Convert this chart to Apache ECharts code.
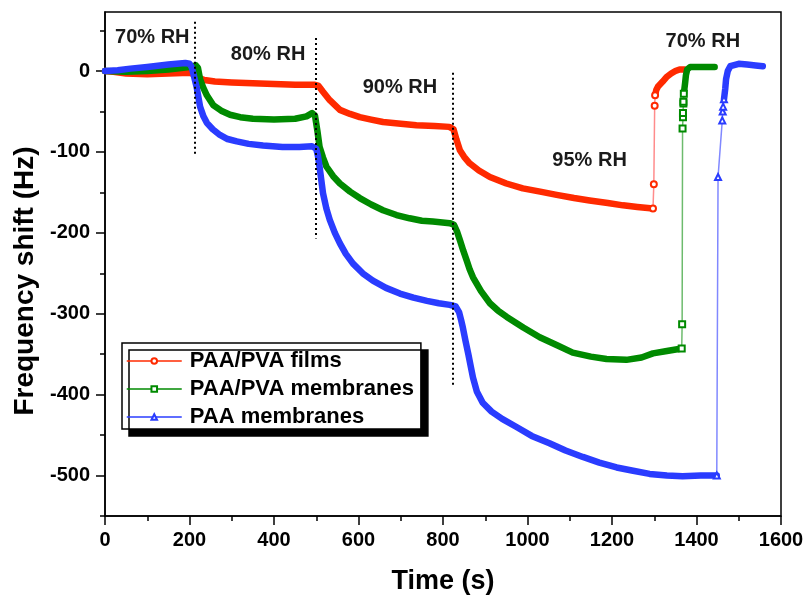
<!DOCTYPE html>
<html>
<head>
<meta charset="utf-8">
<script src="https://cdn.jsdelivr.net/npm/echarts@6/dist/echarts.min.js"></script>
<style>
  html, body { margin: 0; padding: 0; background: #fff; }
  #chart { width: 809px; height: 596px; }
</style>
</head>
<body>
<div id="chart"></div>
<script>
// Frequency shift of QCM sensors while the relative humidity is stepped 70 → 80 → 90 → 95 → 70 % RH.
// Each record is [time (s), frequency shift (Hz)].

// PAA/PVA films: response while humidity rises
const filmsRise = [[0,0],[20,-1],[50,-3],[100,-4],[150,-3],[200,-2],[210,-4],[220,-8],[235,-11],[260,-13],[300,-14],[350,-15],[400,-16],[450,-17],[495,-17],[505,-18],[515,-25],[532,-36],[556,-48],[580,-53],[603,-57],[630,-60],[658,-63],[700,-65],[737,-67],[780,-68],[815,-69],[825,-72],[832,-85],[840,-98],[850,-106],[863,-114],[885,-123],[911,-131],[950,-139],[989,-145],[1030,-149],[1069,-153],[1110,-157],[1147,-160],[1190,-163],[1226,-166],[1260,-168],[1297,-170]];
// PAA/PVA films: fast jump back when humidity returns to 70 %
const filmsJump = [[1297,-170],[1299,-140],[1301,-43],[1302,-30]];
const filmsBack = [[1302,-30],[1305,-23],[1309,-19],[1320,-13],[1330,-7],[1340,-3],[1350,0],[1360,2],[1372,2]];

// PAA/PVA membranes
const pvaMemRise = [[0,0],[50,-1],[100,0],[150,2],[200,5],[215,7],[220,4],[225,-10],[232,-20],[241,-30],[256,-42],[275,-49],[296,-54],[320,-57],[350,-59],[400,-60],[450,-59],[477,-56],[490,-52],[497,-55],[503,-75],[508,-94],[516,-107],[524,-118],[540,-130],[556,-139],[580,-149],[603,-157],[630,-165],[658,-172],[690,-178],[721,-182],[750,-185],[776,-186],[816,-188],[826,-190],[833,-198],[840,-209],[848,-222],[856,-234],[863,-245],[871,-255],[890,-272],[911,-287],[930,-296],[951,-304],[990,-317],[1029,-329],[1070,-339],[1107,-348],[1150,-353],[1187,-356],[1234,-357],[1270,-354],[1297,-349],[1330,-346],[1365,-343]];
const pvaMemJump = [[1365,-343],[1366,-313],[1367,-71],[1368,-57],[1368,-52],[1369,-40],[1369,-38],[1370,-28]];
const pvaMemBack = [[1370,-28],[1373,-15],[1375,-5],[1378,2],[1385,5],[1443,5]];

// PAA membranes
const paaMemRise = [[0,0],[30,1],[60,3],[100,5],[150,8],[190,10],[200,9],[205,5],[210,-5],[217,-20],[225,-44],[233,-56],[241,-64],[255,-72],[272,-79],[290,-84],[312,-87],[340,-90],[374,-92],[420,-94],[460,-94],[490,-93],[500,-96],[504,-105],[508,-119],[512,-135],[516,-151],[524,-170],[532,-184],[544,-200],[556,-213],[570,-226],[587,-238],[610,-250],[634,-259],[665,-268],[698,-275],[730,-280],[762,-284],[790,-287],[816,-289],[830,-291],[838,-298],[843,-308],[847,-317],[853,-333],[860,-350],[866,-366],[871,-379],[880,-396],[894,-410],[915,-421],[940,-430],[974,-440],[1010,-451],[1052,-460],[1090,-469],[1131,-477],[1170,-484],[1211,-490],[1250,-494],[1289,-498],[1330,-500],[1367,-501],[1410,-500],[1448,-500]];
const paaMemJump = [[1448,-500],[1451,-131],[1461,-61],[1462,-50],[1463,-44],[1465,-35]];
const paaMemBack = [[1465,-35],[1468,-22],[1470,-10],[1474,0],[1480,6],[1500,9],[1520,8],[1540,7],[1557,6]];

// Humidity switching moments (dotted markers) and their vertical extent
const switchTimes = [213, 499, 823];
const switchTop = [61, 41, -2];
const switchBottom = [-104, -207, -390];

// Humidity level labels
const rhLabels = ['70% RH', '80% RH', '90% RH', '95% RH', '70% RH'];
const rhLabelTime = [112, 386, 698, 1147, 1415];
const rhLabelShift = [41, 20, -20, -111, 37];

// Axis ticks
const yMajorTicks = [-500, -400, -300, -200, -100, 0];
const yMinorTicks = [-550, -450, -350, -250, -150, -50, 50];

const seriesNames = ['PAA/PVA films', 'PAA/PVA membranes', 'PAA membranes'];
const seriesColors = ['#ff2a00', '#008a00', '#2a3cff'];
const jumpColors = ['#ff8c8c', '#6dbb6d', '#8088ff'];
const seriesSymbols = ['emptyCircle', 'emptyRect', 'emptyTriangle'];

const FONT = "'Liberation Sans', Arial, Helvetica, sans-serif";

const riseData = [filmsRise, pvaMemRise, paaMemRise];
const jumpData = [filmsJump, pvaMemJump, paaMemJump];
const backData = [filmsBack, pvaMemBack, paaMemBack];

const series = [];
for (let i = 0; i < 3; i++) {
  const thick = {
    type: 'line', xAxisIndex: 0, yAxisIndex: 0,
    showSymbol: false, symbol: 'none', silent: true,
    lineStyle: { color: seriesColors[i], width: 6.5, cap: 'round', join: 'round' },
    z: 2
  };
  series.push(Object.assign({ name: seriesNames[i] + ' rise', data: riseData[i] }, thick));
  series.push(Object.assign({ name: seriesNames[i] + ' back', data: backData[i] }, thick));
  series.push({
    name: seriesNames[i], type: 'line', xAxisIndex: 0, yAxisIndex: 0,
    data: jumpData[i], symbol: seriesSymbols[i], symbolSize: 6, showSymbol: true,
    itemStyle: { color: seriesColors[i], borderWidth: 1.5 },
    lineStyle: { color: jumpColors[i], width: 1.5 },
    z: 3
  });
}

// dotted switching markers
series.push({
  type: 'line', data: [], silent: true,
  markLine: {
    silent: true, symbol: 'none', label: { show: false },
    lineStyle: { color: '#000', width: 2, type: [2, 3] },
    data: switchTimes.map((t, k) => [{ coord: [t, switchTop[k]] }, { coord: [t, switchBottom[k]] }])
  }
});

// humidity labels
series.push({
  type: 'scatter', symbol: 'circle', symbolSize: 1, silent: true,
  itemStyle: { color: 'rgba(0,0,0,0)', opacity: 1 },
  data: rhLabels.map((s, k) => ({ name: s, value: [rhLabelTime[k], rhLabelShift[k]] })),
  label: {
    show: true, position: 'inside', formatter: p => p.name, opacity: 1,
    fontFamily: FONT, fontWeight: 'bold', fontSize: 20, color: '#1a1a1a'
  },
  labelLayout: { hideOverlap: false },
  z: 5
});

const chart = echarts.init(document.getElementById('chart'), null, { renderer: 'canvas' });
chart.setOption({
  animation: false,
  backgroundColor: '#fff',
  textStyle: { fontFamily: FONT },
  grid: { left: 105, right: 28, top: 12, bottom: 80, outerBoundsMode: 'none', containLabel: false, show: true, borderColor: '#000', borderWidth: 1.5, backgroundColor: 'transparent' },
  legend: {
    orient: 'vertical', left: 122, top: 343,
    data: seriesNames.map((n, i) => ({ name: n, lineStyle: { color: seriesColors[i], width: 1.5 } })),
    itemWidth: 55, itemHeight: 7, itemGap: 6,
    padding: [7, 7, 1, 4],
    backgroundColor: '#fff', borderColor: '#000', borderWidth: 1.5,
    shadowColor: '#000', shadowBlur: 0, shadowOffsetX: 7, shadowOffsetY: 7,
    textStyle: { fontFamily: FONT, fontWeight: 'bold', fontSize: 22, color: '#000', padding: [0, 0, 0, 3] },
    selectedMode: false
  },
  xAxis: {
    type: 'value', min: 0, max: 1600, interval: 200,
    name: 'Time (s)', nameLocation: 'middle', nameGap: 52,
    nameTextStyle: { fontFamily: FONT, fontWeight: 'bold', fontSize: 27, color: '#000' },
    axisLine: { show: true, onZero: false, lineStyle: { color: '#000', width: 1.5 } },
    axisTick: { show: true, length: 9, lineStyle: { color: '#000', width: 1.5 } },
    minorTick: { show: true, splitNumber: 2, length: 5, lineStyle: { color: '#000', width: 1.5 } },
    axisLabel: { margin: 14, formatter: v => String(v), fontFamily: FONT, fontWeight: 'bold', fontSize: 20, color: '#000' },
    splitLine: { show: false }
  },
  yAxis: [{
    type: 'value', min: -550, max: 73,
    name: 'Frequency shift (Hz)', nameLocation: 'middle', nameGap: 66,
    nameTextStyle: { fontFamily: FONT, fontWeight: 'bold', fontSize: 28, color: '#000', padding: [0, 0, 0, -34] },
    axisLine: { show: true, onZero: false, lineStyle: { color: '#000', width: 1.5 } },
    axisTick: { show: true, length: 9, customValues: yMajorTicks, lineStyle: { color: '#000', width: 1.5 } },
    axisLabel: { margin: 15, customValues: yMajorTicks, formatter: v => String(v), fontFamily: FONT, fontWeight: 'bold', fontSize: 20, color: '#000' },
    splitLine: { show: false }
  }, {
    type: 'value', min: -550, max: 73, position: 'left', offset: 0,
    axisLine: { show: false },
    axisTick: { show: true, length: 5, customValues: yMinorTicks, lineStyle: { color: '#000', width: 1.5 } },
    axisLabel: { show: false },
    splitLine: { show: false }
  }],
  series: series
});
</script>
</body>
</html>
